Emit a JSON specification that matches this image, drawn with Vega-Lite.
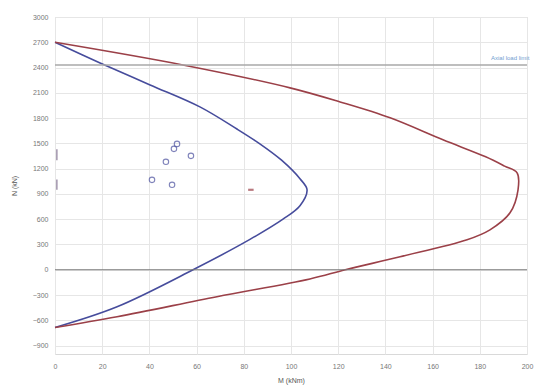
{
  "$schema": "https://vega.github.io/schema/vega-lite/v6.json",
  "width": 472,
  "height": 337,
  "autosize": "none",
  "padding": {"left": 55, "top": 17, "right": 8, "bottom": 34},
  "background": "white",
  "config": {
    "view": {"stroke": "#d9d9d9", "strokeWidth": 1},
    "font": "Liberation Sans",
    "axis": {"labelColor": "#777777", "labelFontSize": 7, "titleColor": "#555555", "titleFontSize": 7, "titleFontWeight": "normal", "gridColor": "#e6e6e6", "domain": false, "ticks": false, "labelOverlap": false},
    "axisY": {"labelOverlap": false},
    "axisQuantitative": {"labelOverlap": false}
  },
  "datasets": {
    "curves": [
      {"series": "inner", "o": 1, "M": 0, "N": 2700},
      {"series": "inner", "o": 2, "M": 19.1, "N": 2455},
      {"series": "inner", "o": 3, "M": 40.3, "N": 2194},
      {"series": "inner", "o": 4, "M": 61.4, "N": 1933},
      {"series": "inner", "o": 5, "M": 77.1, "N": 1670},
      {"series": "inner", "o": 6, "M": 86.5, "N": 1500},
      {"series": "inner", "o": 7, "M": 96.0, "N": 1300},
      {"series": "inner", "o": 8, "M": 103.8, "N": 1080},
      {"series": "inner", "o": 9, "M": 106.8, "N": 949},
      {"series": "inner", "o": 10, "M": 103.8, "N": 760},
      {"series": "inner", "o": 11, "M": 96.6, "N": 600},
      {"series": "inner", "o": 12, "M": 82.6, "N": 360},
      {"series": "inner", "o": 13, "M": 58.5, "N": 0},
      {"series": "inner", "o": 14, "M": 26.3, "N": -439},
      {"series": "inner", "o": 15, "M": 0, "N": -685},
      {"series": "outer", "o": 1, "M": 0, "N": 2700},
      {"series": "outer", "o": 2, "M": 54.2, "N": 2431},
      {"series": "outer", "o": 3, "M": 99.6, "N": 2159},
      {"series": "outer", "o": 4, "M": 120.8, "N": 1992},
      {"series": "outer", "o": 5, "M": 142, "N": 1803},
      {"series": "outer", "o": 6, "M": 164.4, "N": 1542},
      {"series": "outer", "o": 7, "M": 182.5, "N": 1340},
      {"series": "outer", "o": 8, "M": 190.5, "N": 1230},
      {"series": "outer", "o": 9, "M": 195.8, "N": 1150},
      {"series": "outer", "o": 10, "M": 196.2, "N": 949},
      {"series": "outer", "o": 11, "M": 192.8, "N": 676},
      {"series": "outer", "o": 12, "M": 184.3, "N": 474},
      {"series": "outer", "o": 13, "M": 174.6, "N": 356},
      {"series": "outer", "o": 14, "M": 146.2, "N": 154},
      {"series": "outer", "o": 15, "M": 123, "N": 0},
      {"series": "outer", "o": 16, "M": 108, "N": -110},
      {"series": "outer", "o": 17, "M": 68.6, "N": -320},
      {"series": "outer", "o": 18, "M": 26.3, "N": -557},
      {"series": "outer", "o": 19, "M": 0, "N": -685}
    ],
    "loads": [
      {"M": 51.7, "N": 1494},
      {"M": 50.4, "N": 1435},
      {"M": 57.6, "N": 1352},
      {"M": 47.0, "N": 1281},
      {"M": 41.1, "N": 1067},
      {"M": 49.6, "N": 1008}
    ],
    "marker": [{"M": 83, "N": 949}],
    "edge": [{"M": 0.8, "N": 1300, "N2": 1430}, {"M": 0.8, "N": 950, "N2": 1070}],
    "hlines": [{"M": 0, "M2": 200, "N": 0, "kind": "zero"}, {"M": 0, "M2": 200, "N": 2430, "kind": "limit"}],
    "label": [{"M": 201, "N": 2510, "text": "Axial load limit"}]
  },
  "encoding": {
    "x": {"type": "quantitative", "field": "M", "scale": {"domain": [0, 200], "nice": false, "zero": false},
      "axis": {"values": [0, 20, 40, 60, 80, 100, 120, 140, 160, 180, 200], "format": "d", "title": "M (kNm)", "labelPadding": 8, "titlePadding": 7, "labelOverlap": false, "labelFlush": false}},
    "y": {"type": "quantitative", "field": "N", "scale": {"domain": [-1000, 3000], "nice": false, "zero": false},
      "axis": {"values": [-900, -600, -300, 0, 300, 600, 900, 1200, 1500, 1800, 2100, 2400, 2700, 3000], "format": "d", "title": "N (kN)", "labelPadding": 7, "titlePadding": 15, "labelOverlap": false, "labelFlush": false, "labelBound": false}}
  },
  "layer": [
    {
      "data": {"name": "curves"},
      "mark": {"type": "line", "strokeWidth": 1.6, "interpolate": "catmull-rom"},
      "encoding": {
        "order": {"field": "o", "type": "quantitative"},
        "detail": {"field": "series", "type": "nominal"},
        "stroke": {"field": "series", "type": "nominal", "scale": {"domain": ["inner", "outer"], "range": ["#464c9c", "#9b4048"]}, "legend": null}
      }
    },
    {
      "data": {"name": "hlines"},
      "mark": {"type": "rule"},
      "encoding": {
        "x2": {"field": "M2"},
        "color": {"field": "kind", "type": "nominal", "scale": {"domain": ["zero", "limit"], "range": ["#7a7a7a", "#a9a9a9"]}, "legend": null},
        "strokeWidth": {"field": "kind", "type": "nominal", "scale": {"domain": ["zero", "limit"], "range": [1, 1.5]}, "legend": null}
      }
    },
    {
      "data": {"name": "loads"},
      "mark": {"type": "point", "shape": "circle", "size": 30, "strokeWidth": 1.1, "color": "#4a4f9e", "filled": false}
    },
    {
      "data": {"name": "marker"},
      "mark": {"type": "point", "shape": "M-1,-0.4L1,-0.4L1,0.4L-1,0.4Z", "size": 30, "filled": true, "color": "#9b4048"}
    },
    {
      "data": {"name": "edge"},
      "mark": {"type": "rule", "strokeWidth": 1.2, "color": "#8a7a98"},
      "encoding": {"y2": {"field": "N2"}}
    },
    {
      "data": {"name": "label"},
      "mark": {"type": "text", "align": "right", "baseline": "middle", "fontSize": 6, "color": "#6fa0d0", "clip": false},
      "encoding": {"text": {"field": "text"}}
    }
  ]
}
